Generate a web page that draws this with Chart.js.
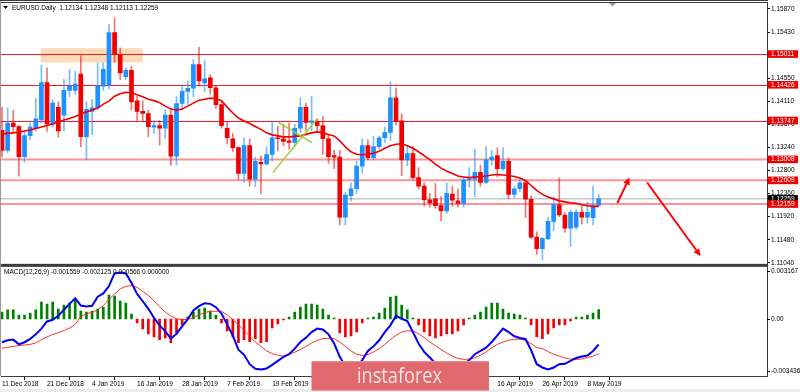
<!DOCTYPE html>
<html><head><meta charset="utf-8">
<script src="https://cdn.jsdelivr.net/npm/chart.js@4/dist/chart.umd.min.js"></script>
<style>html,body{margin:0;padding:0;background:#fff;}canvas{display:block}</style>
</head><body>
<canvas id="c" width="800" height="392"></canvas>
<script>
// ---------- DATA ----------
const opens = [1.1356,1.1318,1.1370,1.1363,1.1306,1.1346,1.1360,1.1376,1.1447,1.1368,
1.1400,1.1385,1.1432,1.1432,1.1463,1.1344,1.1392,1.1399,1.1440,1.1442,
1.1542,1.1500,1.1458,1.1470,1.1412,1.1392,1.1388,1.1362,1.1365,1.1360,
1.1385,1.1307,1.1407,1.1430,1.1436,1.1481,1.1446,1.1456,1.1437,1.1405,
1.1360,1.1340,1.1323,1.1274,1.1327,1.1263,1.1295,1.1292,1.1310,1.1342,
1.1340,1.1336,1.1333,1.1360,1.1400,1.1371,1.1372,1.1365,1.1340,1.1308,
1.1305,1.1191,1.1232,1.1245,1.1288,1.1327,1.1304,1.1325,1.1342,1.1352,
1.1418,1.1374,1.1300,1.1312,1.1266,1.1250,1.1224,1.1226,1.1213,1.1203,
1.1235,1.1222,1.1217,1.1262,1.1263,1.1276,1.1257,1.1300,1.1308,1.1283,
1.1297,1.1234,1.1245,1.1256,1.1225,1.1153,1.1131,1.1150,1.1183,1.1215,
1.1195,1.1170,1.1172,1.1200,1.1191,1.1190,1.12134];
const highs = [1.1400,1.1399,1.1394,1.1366,1.1355,1.1370,1.1417,1.1480,1.1475,1.1415,
1.1410,1.1453,1.1472,1.1468,1.1498,1.1410,1.1415,1.1484,1.1485,1.1557,
1.1570,1.1513,1.1475,1.1478,1.1420,1.1412,1.1394,1.1375,1.1375,1.1395,
1.1395,1.1420,1.1443,1.1450,1.1490,1.1514,1.1488,1.1462,1.1440,1.1410,
1.1372,1.1350,1.1325,1.1342,1.1340,1.1305,1.1307,1.1325,1.1372,1.1364,
1.1368,1.1370,1.1368,1.1418,1.1408,1.1420,1.1378,1.1382,1.1348,1.1318,
1.1318,1.1238,1.1256,1.1297,1.1340,1.1338,1.1345,1.1345,1.1362,1.1448,
1.1437,1.1388,1.1327,1.1325,1.1285,1.1256,1.1236,1.1255,1.1230,1.1256,
1.1250,1.1245,1.1268,1.1285,1.1320,1.1290,1.1325,1.1318,1.1323,1.1323,
1.1303,1.1250,1.1262,1.1262,1.1232,1.1163,1.1152,1.1190,1.1230,1.1265,
1.1200,1.1205,1.1206,1.1214,1.1220,1.1250,1.12348];
const lows = [1.1306,1.1314,1.1351,1.1269,1.1295,1.1338,1.1355,1.1370,1.1354,1.1362,
1.1343,1.1355,1.1420,1.1425,1.1325,1.1300,1.1348,1.1396,1.1432,1.1435,
1.1485,1.1453,1.1453,1.1395,1.1375,1.1373,1.1344,1.1350,1.1328,1.1340,
1.1290,1.1290,1.1395,1.1405,1.1420,1.1440,1.1430,1.1425,1.1397,1.1360,
1.1330,1.1316,1.1262,1.1257,1.1250,1.1249,1.1235,1.1290,1.1298,1.1317,
1.1327,1.1320,1.1325,1.1352,1.1356,1.1355,1.1354,1.1310,1.1293,1.1283,
1.1176,1.1176,1.1222,1.1236,1.1275,1.1300,1.1300,1.1320,1.1333,1.1337,
1.1366,1.1270,1.1289,1.1262,1.1244,1.1212,1.1210,1.1208,1.1184,1.1198,
1.1212,1.1210,1.1210,1.1248,1.1230,1.1250,1.1255,1.1290,1.1268,1.1280,
1.1226,1.1228,1.1240,1.1190,1.1150,1.1120,1.1110,1.1148,1.1165,1.1192,
1.1162,1.1135,1.1168,1.1178,1.1180,1.1176,1.12113];
const closes = [1.1318,1.1370,1.1363,1.1306,1.1346,1.1362,1.1378,1.1447,1.1368,1.1408,
1.1355,1.1432,1.1440,1.1444,1.1344,1.1396,1.1399,1.1440,1.1472,1.1542,
1.1500,1.1465,1.1470,1.1410,1.1392,1.1388,1.1363,1.1365,1.1360,1.1385,
1.1307,1.1407,1.1430,1.1436,1.1481,1.1450,1.1454,1.1437,1.1405,1.1365,
1.1342,1.1323,1.1274,1.1327,1.1263,1.1297,1.1292,1.1310,1.1342,1.1340,
1.1335,1.1333,1.1360,1.1400,1.1371,1.1374,1.1365,1.1340,1.1306,1.1305,
1.1191,1.1233,1.1245,1.1288,1.1327,1.1304,1.1325,1.1342,1.1352,1.1418,
1.1374,1.1300,1.1312,1.1266,1.1250,1.1224,1.1218,1.1213,1.1203,1.1236,
1.1223,1.1217,1.1262,1.1264,1.1276,1.1257,1.1300,1.1305,1.1283,1.1297,
1.1234,1.1245,1.1256,1.1225,1.1153,1.1131,1.1150,1.1183,1.1215,1.1195,
1.1170,1.1200,1.1200,1.1191,1.1200,1.1213,1.12259];
const maValues = [1.13493,1.13502,1.13512,1.13530,1.13549,1.13568,1.13596,1.13625,1.13653,1.13681,
1.13719,1.13757,1.13785,1.13823,1.13870,1.13908,1.13945,1.13983,1.14059,1.14115,
1.14210,1.14257,1.14285,1.14276,1.14238,1.14200,1.14153,1.14125,1.14087,1.14021,
1.13964,1.13945,1.13964,1.14021,1.14078,1.14134,1.14153,1.14172,1.14162,1.14125,
1.14002,1.13889,1.13795,1.13738,1.13691,1.13634,1.13578,1.13512,1.13474,1.13455,
1.13436,1.13436,1.13446,1.13455,1.13483,1.13512,1.13530,1.13512,1.13483,1.13455,
1.13361,1.13247,1.13153,1.13106,1.13096,1.13106,1.13125,1.13162,1.13219,1.13266,
1.13295,1.13304,1.13266,1.13219,1.13153,1.13078,1.13002,1.12917,1.12842,1.12785,
1.12738,1.12691,1.12672,1.12662,1.12672,1.12681,1.12691,1.12710,1.12719,1.12710,
1.12700,1.12681,1.12653,1.12606,1.12511,1.12417,1.12342,1.12294,1.12257,1.12219,
1.12200,1.12181,1.12172,1.12144,1.12125,1.12115,1.12115];
const macdMain = [-0.00142,-0.00130,-0.00126,-0.00155,-0.00142,-0.00122,-0.00094,-0.00059,-0.00015,-0.00005,
0.00019,0.00056,0.00092,0.00126,0.00082,0.00076,0.00080,0.00136,0.00156,0.00201,
0.00278,0.00284,0.00278,0.00221,0.00153,0.00108,0.00062,0.00007,-0.00039,-0.00076,
-0.00120,-0.00090,-0.00045,-0.00001,0.00052,0.00078,0.00096,0.00092,0.00072,0.00032,
-0.00033,-0.00102,-0.00187,-0.00219,-0.00276,-0.00304,-0.00308,-0.00302,-0.00280,-0.00256,
-0.00231,-0.00215,-0.00181,-0.00141,-0.00114,-0.00080,-0.00059,-0.00064,-0.00094,-0.00150,
-0.00231,-0.00288,-0.00312,-0.00292,-0.00251,-0.00195,-0.00167,-0.00130,-0.00080,-0.00039,
0.00021,0.00001,-0.00013,-0.00080,-0.00150,-0.00201,-0.00235,-0.00271,-0.00302,-0.00322,
-0.00328,-0.00312,-0.00276,-0.00251,-0.00215,-0.00195,-0.00175,-0.00141,-0.00100,-0.00059,
-0.00080,-0.00106,-0.00116,-0.00122,-0.00191,-0.00276,-0.00296,-0.00308,-0.00296,-0.00276,
-0.00274,-0.00256,-0.00238,-0.00229,-0.00223,-0.00195,-0.001559];
const macdSignal = [-0.00179,-0.00173,-0.00168,-0.00162,-0.00159,-0.00155,-0.00147,-0.00126,-0.00110,-0.00094,
-0.00084,-0.00070,-0.00056,-0.00033,0.00015,0.00032,0.00041,0.00056,0.00082,0.00118,
0.00153,0.00183,0.00199,0.00203,0.00193,0.00168,0.00144,0.00110,0.00076,0.00041,
0.00019,0.00001,-0.00005,-0.00001,0.00007,0.00027,0.00039,0.00047,0.00047,0.00047,
0.00025,-0.00005,-0.00035,-0.00070,-0.00106,-0.00141,-0.00167,-0.00195,-0.00211,-0.00221,
-0.00227,-0.00215,-0.00203,-0.00187,-0.00167,-0.00147,-0.00130,-0.00120,-0.00118,-0.00120,
-0.00141,-0.00167,-0.00195,-0.00215,-0.00223,-0.00217,-0.00201,-0.00181,-0.00155,-0.00126,
-0.00100,-0.00080,-0.00072,-0.00074,-0.00090,-0.00114,-0.00141,-0.00162,-0.00187,-0.00207,
-0.00227,-0.00241,-0.00247,-0.00245,-0.00238,-0.00221,-0.00201,-0.00175,-0.00155,-0.00141,
-0.00130,-0.00124,-0.00124,-0.00130,-0.00150,-0.00175,-0.00181,-0.00199,-0.00215,-0.00227,
-0.00238,-0.00245,-0.00247,-0.00244,-0.00235,-0.00227,-0.002125];
const macdHist = [0.00042,0.00055,0.00055,0.00024,0.00024,0.00036,0.00055,0.00103,0.00091,0.00103,
0.00061,0.00085,0.00097,0.00115,0.00048,0.00042,0.00048,0.00061,0.00073,0.00145,
0.00139,0.00109,0.00097,0.00030,-0.00024,-0.00061,-0.00091,-0.00109,-0.00127,-0.00115,
-0.00145,-0.00085,-0.00036,0.00012,0.00042,0.00061,0.00067,0.00048,0.00024,-0.00024,
-0.00073,-0.00109,-0.00145,-0.00127,-0.00139,-0.00121,-0.00145,-0.00139,-0.00055,-0.00030,
-0.00006,0.00012,0.00042,0.00073,0.00091,0.00091,0.00085,0.00061,0.00024,0.00006,
-0.00085,-0.00109,-0.00103,-0.00079,-0.00024,0.00006,0.00012,0.00036,0.00067,0.00133,
0.00139,0.00085,0.00055,0.00006,-0.00036,-0.00079,-0.00103,-0.00115,-0.00103,-0.00091,
-0.00091,-0.00073,-0.00036,0.00006,0.00024,0.00042,0.00073,0.00097,0.00097,0.00061,
0.00036,0.00030,0.00024,0.00006,-0.00036,-0.00109,-0.00121,-0.00091,-0.00055,-0.00036,
-0.00036,-0.00012,0.00012,0.00012,0.00024,0.00036,0.000566];
const dateTickLabels = ["11 Dec 2018","21 Dec 2018","4 Jan 2019","16 Jan 2019","28 Jan 2019","7 Feb 2019",
"19 Feb 2019","1 Mar 2019","13 Mar 2019","25 Mar 2019","4 Apr 2019","16 Apr 2019","26 Apr 2019","8 May 2019"];
const barsPerDateTick = 8;
const priceTicks = [1.15870,1.15430,1.14990,1.14550,1.14110,1.13670,1.13240,1.12800,1.12360,1.11920,1.11480,1.11040];
const levelsStrong = [1.15011,1.14426,1.13747];
const levelsSoft = [1.13008,1.12609,1.12159];
const bidPrice = 1.12259;
const macdScaleLabels = [0.003167, 0.00, -0.003436];
const headerText = "EURUSD.Daily  1.12134 1.12348 1.12113 1.12259";
const macdText = "MACD(12,26,9) -0.001559 -0.002125 0.000566 0.000000";
const watermarkText = "instaforex";
// annotation anchors (bar index, price)
const zone = {from: 6.88, to: 25.0, top: 1.15121, bottom: 1.14851};
const greenLines = [[[48.1,1.12757],[55.95,1.13776]], [[49.1,1.13710],[55.06,1.13328]]];
const arrows = [[[109.33,1.12178],[111.47,1.12662]], [[114.6,1.12568],[124.09,1.11172]]];
const totalSlots = 135.9;

// ---------- CHART ----------
const FONT = "'Liberation Sans', Arial, sans-serif";
const BULL = '#1E90FF', BEAR = '#F00000';
const BULLW = 'rgba(30,144,255,0.6)', BEARW = 'rgba(230,0,0,0.55)';
const idx = closes.map((_, i) => i);
const isBull = i => closes[i] >= opens[i];

const overlay = {
  id: 'overlay',
  beforeDatasetsDraw(chart) {
    const {ctx, scales: {x, y}, chartArea} = chart;
    ctx.save();
    const zx0 = x.getPixelForValue(zone.from), zx1 = x.getPixelForValue(zone.to);
    const zy0 = y.getPixelForValue(zone.top), zy1 = y.getPixelForValue(zone.bottom);
    ctx.fillStyle = 'rgba(253,208,165,0.8)';
    ctx.fillRect(zx0, zy0, zx1 - zx0, zy1 - zy0);
    ctx.strokeStyle = '#C8C8C8'; ctx.lineWidth = 1.5;
    let py = y.getPixelForValue(bidPrice);
    ctx.beginPath(); ctx.moveTo(chartArea.left, py); ctx.lineTo(chartArea.right, py); ctx.stroke();
    ctx.strokeStyle = '#FF1A1A'; ctx.lineWidth = 1.2;
    levelsStrong.forEach(v => { const p = Math.round(y.getPixelForValue(v)) + 0.5;
      ctx.beginPath(); ctx.moveTo(chartArea.left, p); ctx.lineTo(chartArea.right, p); ctx.stroke(); });
    ctx.strokeStyle = 'rgba(255,40,40,0.5)'; ctx.lineWidth = 2;
    levelsSoft.forEach(v => { const p = y.getPixelForValue(v);
      ctx.beginPath(); ctx.moveTo(chartArea.left, p); ctx.lineTo(chartArea.right, p); ctx.stroke(); });
    ctx.restore();
  },
  afterDatasetsDraw(chart) {
    const {ctx, scales: {x, y}} = chart;
    ctx.save();
    ctx.strokeStyle = '#9ACD32'; ctx.lineWidth = 1.4;
    greenLines.forEach(([a, b]) => {
      ctx.beginPath(); ctx.moveTo(x.getPixelForValue(a[0]), y.getPixelForValue(a[1]));
      ctx.lineTo(x.getPixelForValue(b[0]), y.getPixelForValue(b[1])); ctx.stroke();
    });
    ctx.strokeStyle = '#F00'; ctx.fillStyle = '#F00'; ctx.lineWidth = 2;
    arrows.forEach(([a, b]) => {
      const x0 = x.getPixelForValue(a[0]), y0 = y.getPixelForValue(a[1]);
      const x1 = x.getPixelForValue(b[0]), y1 = y.getPixelForValue(b[1]);
      const ang = Math.atan2(y1 - y0, x1 - x0);
      const hl = 7, hw = 3.5;
      const bx = x1 - hl * Math.cos(ang), by = y1 - hl * Math.sin(ang);
      ctx.beginPath(); ctx.moveTo(x0, y0); ctx.lineTo(bx, by); ctx.stroke();
      ctx.beginPath(); ctx.moveTo(x1, y1);
      ctx.lineTo(bx + hw * Math.sin(ang), by - hw * Math.cos(ang));
      ctx.lineTo(bx - hw * Math.sin(ang), by + hw * Math.cos(ang));
      ctx.closePath(); ctx.fill();
    });
    ctx.restore();
  },
  afterDraw(chart) {
    const {ctx, scales: {x, y, y2}, chartArea} = chart;
    ctx.save();
    const L = chartArea.left, R = chartArea.right;
    const mainBottom = y.bottom, macdBottom = y2.bottom;
    ctx.fillStyle = '#9A9A9A'; ctx.fillRect(0, 0, 1, macdBottom);
    ctx.fillStyle = '#3C3C3C';
    ctx.fillRect(0, 0, R + 1, 1);
    ctx.fillRect(L, 2, R - L + 1, 1);
    ctx.fillRect(L, mainBottom - 1, R - L + 1, 3);
    ctx.fillRect(L, macdBottom, R - L + 1, 1);
    ctx.fillRect(R, 2, 1, macdBottom - 2);
    ctx.font = `6.5px ${FONT}`; ctx.textBaseline = 'middle'; ctx.textAlign = 'left';
    const box = (v, bg) => { const p = y.getPixelForValue(v);
      ctx.fillStyle = bg; ctx.fillRect(R + 1, p - 3.8, 30, 7.6);
      ctx.fillStyle = '#fff'; ctx.fillText(v.toFixed(5), R + 4, p + 0.3); };
    box(bidPrice, '#000');
    levelsStrong.concat(levelsSoft).forEach(v => box(v, '#F00000'));
    ctx.fillStyle = '#000';
    macdScaleLabels.forEach((v, k) => {
      let p = y2.getPixelForValue(v);
      if (k === 0) p += 4; else if (k === macdScaleLabels.length - 1) p -= 4;
      ctx.fillText(k === 1 ? v.toFixed(2) : v.toFixed(6), R + 4, p);
      ctx.fillRect(R, Math.round(p), 3, 1);
    });
    ctx.beginPath(); ctx.moveTo(3, 6); ctx.lineTo(8, 6); ctx.lineTo(5.5, 9); ctx.closePath(); ctx.fill();
    ctx.fillText(headerText, 12, 8.5);
    ctx.fillText(macdText, 4, 272);
    ctx.fillStyle = '#A0A0A0';
    ctx.beginPath(); ctx.moveTo(609, 3); ctx.lineTo(616, 3); ctx.lineTo(612.5, 6.5); ctx.closePath(); ctx.fill();
    ctx.fillStyle = '#EDEDED'; ctx.fillRect(0, 389, 800, 3);
    // watermark
    ctx.fillStyle = '#E2696D'; ctx.fillRect(311.5, 361, 177.5, 29.5);
    ctx.fillStyle = 'rgba(255,255,255,0.25)'; ctx.fillRect(311.5, 361, 177.5, 1);
    ctx.fillStyle = '#F7E6E6'; ctx.font = `22px 'Open Sans', 'Noto Sans', sans-serif`;
    ctx.textAlign = 'left'; ctx.textBaseline = 'alphabetic';
    const w = ctx.measureText(watermarkText).width;
    ctx.translate(357, 382.5); ctx.scale(85 / w, 1);
    ctx.fillText(watermarkText, 0, 0);
    ctx.restore();
  }
};

new Chart(document.getElementById('c'), {
  type: 'bar',
  data: {
    datasets: [
      { type: 'line', label: 'MA', data: idx.map(i => ({x: i, y: maValues[i]})), yAxisID: 'y',
        borderColor: '#F00000', borderWidth: 1.6, pointRadius: 0, tension: 0, order: 1 },
      { label: 'body', data: idx.map(i => ({x: i, y: [opens[i], closes[i]]})), yAxisID: 'y',
        backgroundColor: c => isBull(c.dataIndex) ? BULL : BEAR, barThickness: 4, minBarLength: 1,
        grouped: false, order: 2 },
      { label: 'wick', data: idx.map(i => ({x: i, y: [lows[i], highs[i]]})), yAxisID: 'y',
        backgroundColor: c => isBull(c.dataIndex) ? BULLW : BEARW, barThickness: 1,
        grouped: false, order: 3 },
      { type: 'line', label: 'MACD', data: idx.map(i => ({x: i, y: macdMain[i]})), yAxisID: 'y2',
        borderColor: '#0000F0', borderWidth: 2, pointRadius: 0, tension: 0, order: 4 },
      { type: 'line', label: 'Signal', data: idx.map(i => ({x: i, y: macdSignal[i]})), yAxisID: 'y2',
        borderColor: '#FF3030', borderWidth: 1, pointRadius: 0, tension: 0, order: 5 },
      { label: 'Hist', data: idx.map(i => ({x: i, y: macdHist[i]})), yAxisID: 'y2',
        backgroundColor: c => macdHist[c.dataIndex] >= 0 ? '#008000' : '#F00000', barThickness: 2,
        grouped: false, order: 6 }
    ]
  },
  options: {
    responsive: false, animation: false, events: [],
    layout: {padding: {left: 1, top: 2, right: 0, bottom: 0}},
    plugins: {legend: {display: false}, tooltip: {enabled: false}},
    scales: {
      x: { type: 'linear', min: -0.18, max: totalSlots, offset: false,
        afterBuildTicks: s => { s.ticks = dateTickLabels.map((_, k) => ({value: k * barsPerDateTick})); },
        afterFit: s => { s.height = 16; },
        ticks: { autoSkip: false, maxRotation: 0, align: 'start', padding: 0, color: '#000',
          font: {family: FONT, size: 6.5},
          callback: v => dateTickLabels[Math.round(v / barsPerDateTick)] },
        grid: { drawOnChartArea: false, drawTicks: true, tickLength: 4, color: '#000' },
        border: { display: false } },
      y: { type: 'linear', position: 'right', stack: 'panes', stackWeight: 262,
        min: 1.110020, max: 1.159455,
        afterBuildTicks: s => { s.ticks = priceTicks.map(v => ({value: v})); },
        afterFit: s => { s.width = 33; },
        ticks: { autoSkip: false, padding: 1, color: '#000', font: {family: FONT, size: 6.5},
          callback: v => v.toFixed(5) },
        grid: { drawOnChartArea: false, drawTicks: true, tickLength: 3, color: '#000' },
        border: { display: false } },
      y2: { type: 'linear', position: 'right', stack: 'panes', stackWeight: 112,
        min: -0.00348, max: 0.00330,
        afterFit: s => { s.width = 33; },
        ticks: { display: false }, grid: { display: false }, border: { display: false } }
    }
  },
  plugins: [overlay]
});
</script>
</body></html>
